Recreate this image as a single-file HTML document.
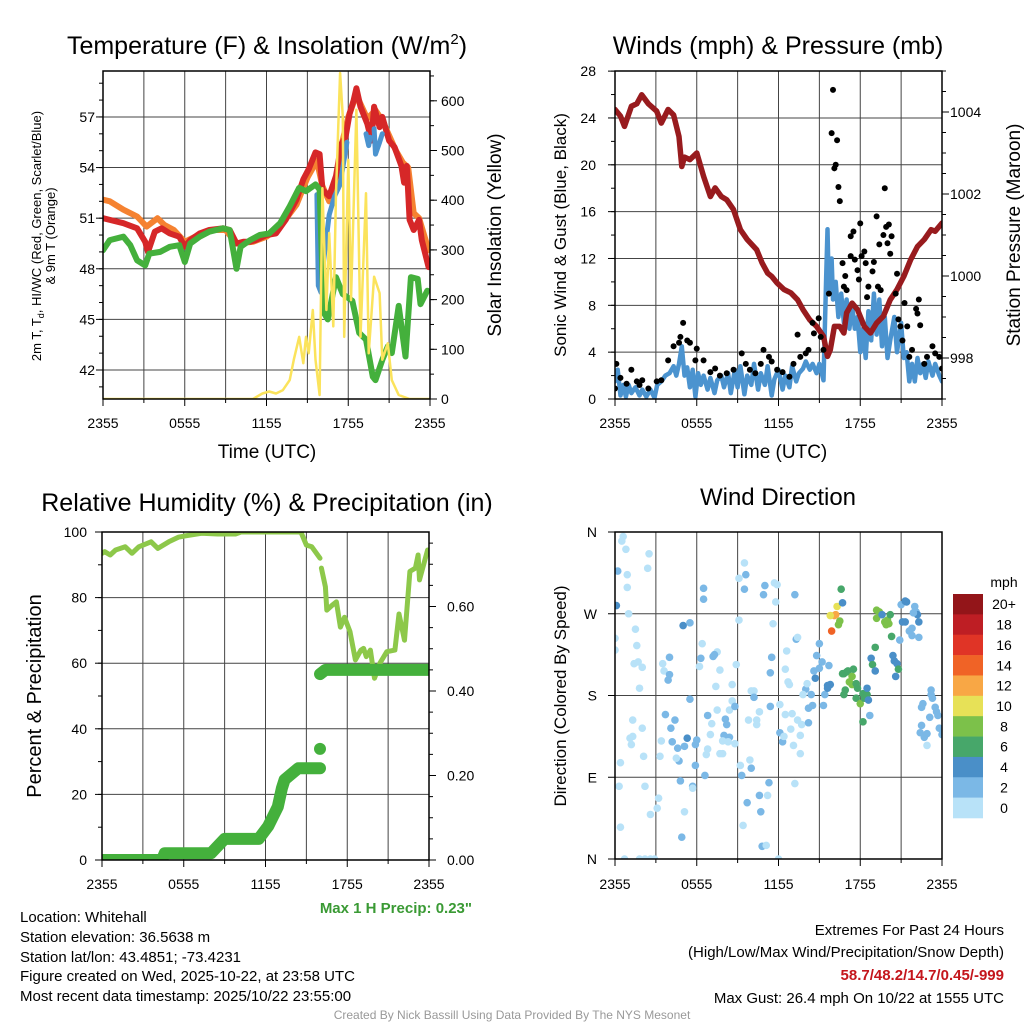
<!DOCTYPE html>
<html><head><meta charset="utf-8">
<style>
html,body{margin:0;padding:0;background:#fff;}
svg{display:block;font-family:"Liberation Sans",Arial,sans-serif;}
</style></head>
<body>
<svg id="fig" xmlns="http://www.w3.org/2000/svg" width="1024" height="1024" viewBox="0 0 1024 1024">
<rect x="0" y="0" width="1024" height="1024" fill="#fff"/>
<!-- titles -->
<text x="267" y="54" font-size="25" text-anchor="middle">Temperature (F) &amp; Insolation (W/m<tspan font-size="15" dy="-10">2</tspan><tspan dy="10">)</tspan></text>
<text x="778" y="54" font-size="25" text-anchor="middle">Winds (mph) &amp; Pressure (mb)</text>
<text x="267" y="511" font-size="25" text-anchor="middle">Relative Humidity (%) &amp; Precipitation (in)</text>
<text x="778" y="505" font-size="24" text-anchor="middle">Wind Direction</text>
<!-- axis titles -->
<text x="267" y="458" font-size="19" text-anchor="middle">Time (UTC)</text>
<text x="778" y="458" font-size="19" text-anchor="middle">Time (UTC)</text>
<text transform="translate(41,236) rotate(-90)" font-size="13" text-anchor="middle">2m T, T<tspan font-size="9" dy="3">d</tspan><tspan dy="-3">, HI/WC (Red, Green, Scarlet/Blue)</tspan></text>
<text transform="translate(55,236) rotate(-90)" font-size="13" text-anchor="middle">&amp; 9m T (Orange)</text>
<text transform="translate(501,235) rotate(-90)" font-size="19" text-anchor="middle">Solar Insolation (Yellow)</text>
<text transform="translate(566,235) rotate(-90)" font-size="17" text-anchor="middle">Sonic Wind &amp; Gust (Blue, Black)</text>
<text transform="translate(1020,235) rotate(-90)" font-size="19" text-anchor="middle">Station Pressure (Maroon)</text>
<text transform="translate(41,696) rotate(-90)" font-size="20" text-anchor="middle">Percent &amp; Precipitation</text>
<text transform="translate(566,696) rotate(-90)" font-size="17" text-anchor="middle">Direction (Colored By Speed)</text>
<!-- footer -->
<text x="472" y="913" font-size="15" font-weight="bold" fill="#3a9a34" text-anchor="end">Max 1 H Precip: 0.23"</text>
<g font-size="15">
<text x="20" y="922">Location: Whitehall</text>
<text x="20" y="942">Station elevation: 36.5638 m</text>
<text x="20" y="962">Station lat/lon: 43.4851; -73.4231</text>
<text x="20" y="981">Figure created on Wed, 2025-10-22, at 23:58 UTC</text>
<text x="20" y="1001">Most recent data timestamp: 2025/10/22 23:55:00</text>
</g>
<g font-size="15" text-anchor="end">
<text x="1004" y="935">Extremes For Past 24 Hours</text>
<text x="1004" y="957">(High/Low/Max Wind/Precipitation/Snow Depth)</text>
<text x="1004" y="980" font-weight="bold" fill="#c4161c">58.7/48.2/14.7/0.45/-999</text>
<text x="1004" y="1003">Max Gust: 26.4 mph On 10/22 at 1555 UTC</text>
</g>
<text x="512" y="1019" font-size="12" fill="#999" text-anchor="middle">Created By Nick Bassill Using Data Provided By The NYS Mesonet</text>
<g id="layer"></g>
</svg>
<script>
// ---------- data ----------
const xTickLabels = ["2355","0555","1155","1755","2355"];
const tempTicks = [42,45,48,51,54,57];
const solarTicks = [0,100,200,300,400,500,600];
const windTicks = [0,4,8,12,16,20,24,28];
const pressTicks = [998,1000,1002,1004];
const rhTicks = [0,20,40,60,80,100];
const precipTicks = [0.00,0.20,0.40,0.60];
const precipTickLabels = ["0.00","0.20","0.40","0.60"];
const dirTicks = [0,90,180,270,360];
const dirTickLabels = ["N","E","S","W","N"];
const speedBins = [0,2,4,6,8,10,12,14,16,18,20];
const speedBinLabels = ["0","2","4","6","8","10","12","14","16","18","20+"];
const speedColors = ["#b8e2f8","#7bb8e6","#4a8fc8","#47a76a","#7cc14a","#e7e157","#f8a745","#f06326","#e03426","#be1e24","#931519"];

const tempT = [[0,51.0],[0.5,50.9],[1.5,50.7],[2.5,50.4],[3.1,49.6],[3.3,49.0],[3.8,50.2],[4.3,50.4],[4.9,50.1],[5.6,49.9],[6.0,49.3],[6.4,49.7],[7.1,50.1],[7.8,50.3],[8.8,50.4],[9.3,50.3],[9.8,49.5],[10.3,49.6],[10.8,49.6],[11.2,49.7],[12.0,50.0],[12.7,50.1],[13.4,50.9],[14.2,52.1],[14.7,53.3],[15.1,53.9],[15.6,54.9],[15.9,54.8],[16.1,52.7],[16.6,52.3],[17.1,53.5],[17.5,55.4],[17.8,55.8],[18.1,57.2],[18.4,58.0],[18.6,58.7],[18.9,57.6],[19.4,56.6],[19.7,55.6],[19.9,57.6],[20.3,56.4],[20.5,57.0],[21.0,55.6],[21.4,55.2],[21.9,54.1],[22.1,53.1],[22.3,54.1],[22.5,50.9],[22.8,50.3],[23.2,50.9],[23.4,49.7],[23.9,48.1]];
const temp9m = [[0,52.1],[0.5,52.0],[1.5,51.5],[2.5,51.1],[3.2,50.5],[4.0,51.0],[4.5,50.6],[5.2,50.3],[6.0,49.6],[7,50.0],[8,50.3],[9,50.3],[9.8,49.5],[11,49.6],[12,49.9],[13,50.5],[14.2,51.8],[15,53.4],[15.7,54.4],[16.1,52.9],[16.6,52.0],[17.1,53.2],[17.5,55.3],[18,57.0],[18.6,58.3],[19.4,56.9],[20,57.4],[20.5,56.8],[21,55.9],[21.5,55.0],[22,54.3],[22.4,54.0],[22.8,51.3],[23.2,51.0],[23.9,49.1]];
const dewpoint = [[0,49.1],[0.5,49.7],[1.5,49.9],[2,49.4],[2.5,48.5],[3.1,48.2],[3.4,48.9],[4.2,49.0],[4.9,49.3],[5.6,49.4],[6.0,48.4],[6.4,49.5],[7.1,49.9],[7.8,50.2],[8.8,50.4],[9.3,50.3],[9.8,48.0],[10.1,49.3],[10.8,49.7],[11.5,50.0],[12.2,50.1],[13.0,50.7],[13.7,51.7],[14.4,52.8],[14.9,52.6],[15.6,53.0],[15.9,52.7],[16.2,45.4],[16.5,45.0],[17.1,47.5],[17.6,46.5],[18.3,46.1],[18.8,44.2],[19.3,43.8],[19.8,41.6],[20.0,41.4],[20.5,42.6],[20.9,43.4],[21.2,43.0],[21.7,45.8],[22.2,42.8],[22.6,47.5],[23.1,47.4],[23.3,45.9],[23.8,46.7]];
const windChillA = [[15.7,52.4],[15.8,47.0],[16.0,46.6],[16.2,48.5],[16.6,51.2],[17.0,52.3],[17.4,53.0],[17.7,54.5],[17.9,55.5]];
const windChillB = [[19.3,56.0],[19.5,55.3],[19.6,55.8]];
const windChillC = [[19.9,56.3],[20.0,54.8],[20.3,55.5],[20.5,56.0]];
const solar = [[0,0],[11.0,0],[11.7,11],[12.2,15],[12.7,11],[13.2,18],[13.7,38],[14.0,79],[14.4,125],[14.7,72],[14.9,125],[15.1,92],[15.4,179],[15.6,79],[15.9,8],[16.1,424],[16.4,179],[16.6,334],[16.9,146],[17.1,414],[17.4,656],[17.6,568],[17.7,125],[18.0,481],[18.2,199],[18.6,582],[18.9,125],[19.3,414],[19.5,92],[19.9,246],[20.3,213],[20.5,79],[20.9,112],[21.2,38],[21.7,8],[22.5,0],[24,0]];

const pressure = [[0,1004.06],[0.4,1003.9],[0.7,1003.65],[1.2,1004.14],[1.6,1004.2],[1.96,1004.42],[2.45,1004.2],[3.06,1004.02],[3.4,1003.73],[3.9,1004.06],[4.3,1003.93],[4.7,1003.4],[4.9,1002.67],[5.1,1002.9],[5.5,1002.84],[6.0,1003.0],[6.5,1002.43],[7.0,1001.94],[7.35,1002.15],[7.8,1001.94],[8.2,1001.86],[8.7,1001.62],[9.2,1001.13],[9.7,1000.89],[10.4,1000.64],[10.8,1000.32],[11.2,1000.07],[11.5,999.99],[11.9,999.83],[12.4,999.67],[12.9,999.59],[13.4,999.42],[13.8,999.18],[14.3,998.93],[14.8,998.77],[15.3,998.53],[15.6,998.04],[15.8,998.2],[16.1,998.77],[16.5,998.77],[16.8,998.61],[17.0,999.1],[17.4,999.34],[17.8,999.18],[18.3,998.77],[18.75,998.61],[19.2,998.85],[19.7,999.02],[20.2,999.42],[20.7,999.67],[21.2,999.99],[21.7,1000.4],[22.2,1000.72],[22.7,1000.89],[23.2,1001.13],[23.5,1001.09],[24.0,1001.29]];
const windSpeed = [[0,1.5],[0.2,2.5],[0.4,0.3],[0.6,1.2],[0.8,0.2],[1.0,1.2],[1.2,0.5],[1.5,1.0],[1.8,0.3],[2.0,0.8],[2.3,0.2],[2.6,0.8],[2.9,0.1],[3.1,1.2],[3.4,1.5],[3.7,2.0],[4.0,2.2],[4.3,2.8],[4.5,2.0],[4.7,3.0],[4.9,4.5],[5.1,2.0],[5.3,2.7],[5.5,1.0],[5.7,2.5],[5.9,0.2],[6.1,2.2],[6.3,1.2],[6.5,2.0],[6.8,0.8],[7.0,1.8],[7.3,0.5],[7.5,1.6],[7.8,2.0],[8.0,1.0],[8.3,2.2],[8.5,0.5],[8.8,2.5],[9.0,1.0],[9.2,2.8],[9.5,0.4],[9.7,2.0],[10.0,1.2],[10.2,3.0],[10.5,0.8],[10.7,2.2],[11.0,1.2],[11.2,2.8],[11.5,0.3],[11.7,1.7],[12.0,2.5],[12.3,0.8],[12.5,2.0],[12.8,1.0],[13.0,2.8],[13.3,1.5],[13.5,2.2],[13.8,2.6],[14.0,3.2],[14.3,2.5],[14.5,3.0],[14.8,2.2],[15.0,3.0],[15.3,1.6],[15.5,10.5],[15.6,14.5],[15.7,9.0],[15.9,12.0],[16.0,8.5],[16.2,10.0],[16.4,7.0],[16.6,9.0],[16.8,6.5],[17.0,8.5],[17.2,6.0],[17.4,8.0],[17.6,6.0],[17.8,7.0],[18.0,4.0],[18.2,6.0],[18.4,3.5],[18.6,7.5],[18.8,5.0],[19.0,9.0],[19.2,5.5],[19.4,8.5],[19.6,4.5],[19.8,7.0],[20.0,3.5],[20.2,5.0],[20.5,7.0],[20.7,4.0],[21.0,6.5],[21.2,3.5],[21.4,4.0],[21.6,1.5],[21.8,3.0],[22.0,1.5],[22.2,3.5],[22.4,2.2],[22.6,3.0],[22.8,1.8],[23.0,3.2],[23.3,2.0],[23.5,3.0],[23.8,2.0],[24.0,1.5]];
const gusts = [[0,0.9],[0.1,3.0],[0.4,1.8],[0.85,1.3],[1.2,2.5],[1.6,1.5],[1.8,1.2],[2.0,1.6],[2.45,0.9],[3.06,1.5],[3.4,1.6],[3.9,3.3],[4.3,4.5],[4.7,4.8],[4.8,5.3],[5.0,6.5],[5.3,5.0],[5.5,4.8],[5.9,3.3],[6.0,4.3],[6.5,3.3],[7.0,2.3],[7.35,2.6],[7.7,2.0],[8.2,2.2],[8.7,2.5],[9.3,3.9],[9.6,3.0],[9.9,2.5],[10.3,2.2],[10.7,3.0],[10.9,4.2],[11.3,3.6],[11.5,3.2],[11.9,2.5],[12.3,2.3],[12.8,1.9],[13.1,3.0],[13.4,5.5],[13.6,3.6],[14.0,3.9],[14.2,4.2],[14.5,6.5],[14.6,5.6],[14.95,6.9],[15.1,5.3],[15.3,4.2],[15.7,9.0],[15.9,22.7],[16.0,26.4],[16.1,19.7],[16.2,20.0],[16.3,22.1],[16.4,18.1],[16.5,16.9],[16.7,11.6],[16.8,9.6],[16.9,10.5],[17.0,9.3],[17.3,13.9],[17.3,12.2],[17.5,14.3],[17.6,11.9],[17.8,11.0],[17.9,10.2],[18.0,15.0],[18.1,12.2],[18.3,12.6],[18.4,11.6],[18.5,8.7],[18.6,9.6],[18.9,10.9],[19.0,11.7],[19.2,15.6],[19.3,9.6],[19.4,13.2],[19.5,9.3],[19.7,14.0],[19.8,18.0],[19.9,14.7],[20.0,13.3],[20.1,14.9],[20.2,12.4],[20.3,13.9],[20.6,9.0],[20.7,10.7],[20.8,6.8],[20.95,6.2],[21.1,5.0],[21.25,8.2],[21.45,6.2],[21.6,3.6],[21.8,4.2],[22.1,7.7],[22.2,7.3],[22.3,8.5],[22.4,6.3],[22.7,3.0],[22.9,3.6],[23.3,4.5],[23.5,3.9],[23.8,3.6],[24.0,2.6]];

const rh = [[0,93.5],[0.2,94],[0.6,93],[1.0,94.5],[1.7,95.5],[2.2,93.5],[2.7,95.5],[3.6,97],[4.1,95],[4.9,97],[5.6,98.4],[6.1,98.8],[7.3,99.6],[8.5,99.4],[9.8,99.4],[10.2,100],[14.6,100],[15.0,96],[15.4,95.5],[16.0,92],null,[16.1,89],[16.4,83.3],[16.5,76.2],[16.9,77.7],[17.2,78.7],[17.5,71],[17.8,74],[18.2,69.6],[18.6,61],[19.0,64],[19.2,64.5],[19.4,62],[19.7,64],[20.0,55.4],[20.4,60],[20.9,63.5],[21.5,64],[21.8,75],[22.2,67],[22.6,88],[23.0,89],[23.2,93],[23.3,85.4],[23.9,94.5]];
const precipA = [[0,0],[4.4,0],[4.6,0.016],[8.0,0.016],[9.0,0.05],[11.5,0.05],[12.2,0.08],[12.9,0.126],[13.2,0.17],[13.4,0.19],[14.4,0.217],[16.0,0.217]];
const precipSpike = [[16.0,0.263]];
const precipB = [[16.0,0.44],[16.4,0.45],[24,0.45]];

const dirHours = [0.6,0.5,0.8,2.5,2.4,0.2,0.9,0.9,0.1,1.0,1.5,0,0,1.6,1.4,1.7,2.0,1.8,1.3,2.0,1.3,1.1,1.2,2.1,0.4,0.3,2.2,2.6,0.4,0.7,1.8,2.2,2.6,2.9,
3.2,3.1,3.3,3.4,3.7,4.1,4.4,4.2,4.6,5.3,5.1,4.7,4.8,5.1,4.9,5.5,5.0,4.0,3.5,3.6,4.0,3.9,5.5,6.0,5.9,5.9,5.7,5.7,4.5,
6.5,6.5,6.4,6.3,6.2,7.2,7.5,7.3,7.7,7.4,6.8,7.1,7.5,7.0,6.8,6.7,7.7,7.9,8.1,8.2,8.0,8.4,7.9,8.3,6.6,8.6,8.6,8.4,8.8,8.8,8.9,
9.1,9.1,9.5,9.6,9.5,10.9,11.0,11.7,11.9,11.8,11.6,11.5,11.4,10.0,10.2,10.2,10.6,10.4,10.4,9.8,9.9,10.0,9.2,9.3,9.7,10.6,10.7,11.2,11.3,9.4,10.8,11.1,12.0,11.4,12.1,
13.2,13.3,13.4,12.6,12.5,12.7,12.8,12.5,13.0,12.1,12.3,12.4,12.9,13.1,13.6,13.4,13.7,13.6,13.2,14.0,13.8,14.1,14.4,14.2,14.5,14.2,15.0,14.8,14.6,14.7,15.0,15.2,15.7,15.4,15.3,15.6,15.8,15.6,
15.9,16.1,16.2,16.3,15.8,16.4,16.5,16.6,16.7,16.7,16.8,17.0,17.1,17.4,17.5,17.2,17.4,17.7,17.8,16.9,16.8,17.7,18.0,18.2,18.3,18.5,18.2,18.6,18.7,18.5,
18.8,18.9,19.1,19.1,19.2,19.2,19.4,19.6,19.8,19.9,20.0,20.2,20.1,20.3,20.4,20.5,20.7,20.8,20.6,20.9,21.0,21.3,21.4,21.1,21.3,21.6,21.8,22.0,22.1,22.2,22.3,22.3,21.8,21.9,
23.2,23.2,23.3,23.5,23.6,23.7,22.5,22.6,23.1,22.5,22.4,22.7,22.9,22.9,23.8,24.0];
const dirDegrees = [355,350,341,336,320,317,313,299,279,270,253,243,230,235,215,217,211,188,153,144,135,133,126,113,106,80,80,49,35,0,0,0,0,0,
67,56,113,130,159,144,153,129,122,133,124,108,86,52,24,260,257,222,215,207,203,197,176,131,126,103,80,78,111,
298,286,237,221,212,223,228,225,208,190,158,149,164,137,121,115,116,116,154,148,136,134,130,129,92,192,174,164,168,127,214,
263,309,326,313,297,291,301,304,302,283,259,222,205,185,185,178,162,153,148,153,109,100,103,92,62,70,52,70,84,37,14,15,0,168,170,
291,242,244,229,209,195,192,159,160,139,129,135,143,125,116,153,148,136,83,187,181,193,181,166,169,150,237,224,207,199,210,217,213,181,169,191,192,188,
251,268,269,278,268,258,262,297,282,204,204,206,207,201,209,195,192,193,188,186,181,177,171,182,177,181,151,175,158,188,
221,214,207,233,274,265,272,269,261,258,263,269,259,245,224,218,215,209,201,241,280,284,283,261,261,251,246,278,272,269,261,244,254,271,
186,181,177,167,162,158,167,171,156,147,139,134,138,125,144,137];
const dirSpeeds = [1,1,1,1,1,3,1,1,5,1,1,1,1,1,1,1,1,1,1,1,1,1,1,1,1,1,1,1,1,1,1,1,1,1,
1,1,1,1,3,3,3,3,3,5,3,3,3,1,3,3,5,3,1,1,3,3,3,3,3,3,3,1,1,
3,3,1,3,1,3,1,3,1,1,3,1,1,1,1,1,1,1,3,3,3,3,1,1,3,1,1,1,3,1,1,
1,1,1,3,3,3,3,1,1,1,1,3,3,1,1,3,1,1,1,1,1,3,1,3,3,3,3,1,3,1,3,1,1,3,1,
3,3,1,1,1,1,1,1,1,3,3,1,1,1,1,1,1,1,1,3,1,1,3,3,3,3,3,3,3,5,3,3,3,3,3,5,5,5,
15,13,12,11,10,9,9,7,5,7,7,7,7,9,7,9,9,7,7,7,7,7,9,7,7,7,7,5,3,5,
5,7,5,7,9,9,9,5,9,9,9,7,9,7,5,5,5,7,5,3,3,5,5,5,5,3,3,3,3,5,5,3,3,3,
3,3,3,3,3,3,3,3,3,3,3,3,3,1,3,3];

// ---------- scales ----------
const NS = "http://www.w3.org/2000/svg";
const layer = document.getElementById('layer');
const P1 = {x0:103,x1:430,y0:71,y1:399,lab:29};
const P2 = {x0:615,x1:942,y0:71,y1:399,lab:29};
const P3 = {x0:102,x1:429,y0:532,y1:860,lab:29};
const P4 = {x0:615,x1:942,y0:532,y1:859,lab:30};
function xScale(P,h){return P.x0 + h*(P.x1-P.x0)/24;}
function yTemp(t){return 370 - (t-42)*16.87;}
function ySolar(s){return 399 - s*0.497;}
function yWind(m){return 399 - m*11.71;}
function yPress(p){return 112 + (1004-p)*41;}
function yRH(r){return 860 - r*3.28;}
function yPrecip(p){return 860 - p*422.5;}
function yDir(d){return 859 - d*0.9083;}

function mk(tag, attrs, parent){
  const e = document.createElementNS(NS, tag);
  for (const k in attrs) e.setAttribute(k, attrs[k]);
  (parent||layer).appendChild(e);
  return e;
}
function pathD(arr, P, yf){
  let d = "", pen = false;
  for (const p of arr){
    if (!p){pen=false;continue;}
    d += (pen?"L":"M") + xScale(P,p[0]).toFixed(1) + "," + yf(p[1]).toFixed(1);
    pen = true;
  }
  return d;
}
function clip(id,P){
  const c = mk('clipPath',{id:id});
  mk('rect',{x:P.x0,y:P.y0,width:P.x1-P.x0,height:P.y1-P.y0},c);
}
clip('c1',P1);clip('c2',P2);clip('c3',P3);clip('c4',P4);

// ---------- axes helper ----------
function frame(P, name, hLines, yf){
  const g = mk('g',{});
  
  
  for (let i=1;i<8;i++){
    const x = P.x0 + i*(P.x1-P.x0)/8;
    const l = mk('line',{x1:x,x2:x,y1:P.y0,y2:P.y1,stroke:'#444','stroke-width':1},g);
    
    
  }
  for (const v of hLines){
    const y = yf(v);
    if (y<=P.y0+0.5||y>=P.y1-0.5) continue;
    const l = mk('line',{x1:P.x0,x2:P.x1,y1:y,y2:y,stroke:'#444','stroke-width':1},g);
    
    
  }
}
function box(P,name){
  const r = mk('rect',{x:P.x0,y:P.y0,width:P.x1-P.x0,height:P.y1-P.y0,fill:'none',stroke:'#000','stroke-width':1.5});
  
  
}
function xAxis(P,name){
  const g = mk('g',{});
  
  
  for (let i=0;i<=8;i++){
    const x = P.x0 + i*(P.x1-P.x0)/8;
    mk('line',{x1:x,x2:x,y1:P.y1,y2:P.y1+(i%2?4:7),stroke:'#000','stroke-width':1},g);
  }
  xTickLabels.forEach((lab,i)=>{
    const t = mk('text',{x:xScale(P,i*6),y:P.y1+P.lab,'font-size':14,'text-anchor':'middle'},g);
    t.textContent = lab;
    
    
  });
}
function yAxis(P,name,ticks,labels,yf,side,minorStep,lo,hi,lx){
  const g = mk('g',{});
  
  
  const x = side==='left'?P.x0:P.x1, s = side==='left'?-1:1;
  if (minorStep){
    for (let v=lo; v<=hi+1e-9; v+=minorStep){
      const y = yf(v); if (y<P.y0-0.5||y>P.y1+0.5) continue;
      mk('line',{x1:x,x2:x+s*4,y1:y,y2:y,stroke:'#000','stroke-width':1},g);
    }
  }
  ticks.forEach((v,i)=>{
    const y = yf(v);
    mk('line',{x1:x,x2:x+s*7,y1:y,y2:y,stroke:'#000','stroke-width':1},g);
    const t = mk('text',{x:lx,y:y+5,'font-size':14,'text-anchor':side==='left'?'end':'start'},g);
    t.textContent = labels?labels[i]:String(v);
    
    
  });
}
function series(arr,P,yf,color,w,name,clipId,cap){
  const p = mk('path',{d:pathD(arr,P,yf),fill:'none',stroke:color,'stroke-width':w,'stroke-linejoin':'round','stroke-linecap':cap||'round','clip-path':'url(#'+clipId+')'});
  
  
  return p;
}

// ---------- Panel 1 ----------
frame(P1,'temp',tempTicks,yTemp);
series(temp9m,P1,yTemp,'#f58231',6,'temp-9m-line','c1');
series(tempT,P1,yTemp,'#d62728',6,'temp-2m-line','c1');
series(windChillA,P1,yTemp,'#4b93cf',5,'heat-index-line','c1');
series(windChillB,P1,yTemp,'#4b93cf',5,'heat-index-line','c1');
series(windChillC,P1,yTemp,'#4b93cf',5,'heat-index-line','c1');
series(dewpoint,P1,yTemp,'#44b03c',6,'dewpoint-line','c1');
series(solar,P1,ySolar,'#fbe35c',2.5,'solar-line','c1');
box(P1,'temp');
xAxis(P1,'temp');
yAxis(P1,'temp-y',tempTicks,null,yTemp,'left',1,40,59,95);
yAxis(P1,'solar-y',solarTicks,null,ySolar,'right',50,0,650,441);

// ---------- Panel 2 ----------
frame(P2,'wind',windTicks,yWind);
series(windSpeed,P2,yWind,'#4b93cf',4.5,'sonic-wind-line','c2');
series(pressure,P2,yPress,'#981b1e',5.5,'pressure-line','c2');
const gg = mk('g',{'clip-path':'url(#c2)'});


gusts.forEach(p=>{
  const c = mk('circle',{cx:xScale(P2,p[0]),cy:yWind(p[1]),r:3,fill:'#000'},gg);
  
  
});
box(P2,'wind');
xAxis(P2,'wind');
yAxis(P2,'wind-y',windTicks,null,yWind,'left',2,0,28,596);
yAxis(P2,'pressure-y',pressTicks,null,yPress,'right',0.5,997,1005,950);

// ---------- Panel 3 ----------
frame(P3,'rh',rhTicks,yRH);
series(rh,P3,yRH,'#8dc84a',5,'rh-line','c3');
series(precipA,P3,yPrecip,'#44b03c',12,'precip-line','c3');
series(precipB,P3,yPrecip,'#44b03c',12,'precip-line','c3');
precipSpike.forEach(p=>{
  const c = mk('circle',{cx:xScale(P3,p[0]),cy:yPrecip(p[1]),r:6,fill:'#44b03c'});
  
  
});
box(P3,'rh');
xAxis(P3,'rh');
yAxis(P3,'rh-y',rhTicks,null,yRH,'left',10,0,100,87);
yAxis(P3,'precip-y',precipTicks,precipTickLabels,yPrecip,'right',0.05,0,0.75,447);

// ---------- Panel 4 ----------
frame(P4,'dir',dirTicks,yDir);
function speedColor(s){
  let i=0; for (let k=0;k<speedBins.length;k++){ if (s>=speedBins[k]) i=k; }
  return speedColors[i];
}
const dg = mk('g',{'clip-path':'url(#c4)'});


dirHours.forEach((h,i)=>{
  const c = mk('circle',{cx:xScale(P4,h),cy:yDir(dirDegrees[i]),r:3.8,fill:speedColor(dirSpeeds[i])},dg);
  
  
});
box(P4,'dir');
xAxis(P4,'dir');
yAxis(P4,'dir-y',dirTicks,dirTickLabels,yDir,'left',0,0,0,597);

// colorbar
const cb = mk('g',{});


const cbTop=594, cbH=224/11;
for (let i=0;i<speedColors.length;i++){
  const k = speedColors.length-1-i;
  const r = mk('rect',{x:953,y:cbTop+i*cbH,width:30,height:cbH+0.3,fill:speedColors[k]},cb);
  
  
  const t = mk('text',{x:1004,y:cbTop+i*cbH+cbH/2+5,'font-size':14,'text-anchor':'middle'},cb);
  t.textContent = speedBinLabels[k];
  
  
}
const mt = mk('text',{x:1004,y:587,'font-size':14,'text-anchor':'middle'},cb);
mt.textContent='mph';


</script>
</body></html>
